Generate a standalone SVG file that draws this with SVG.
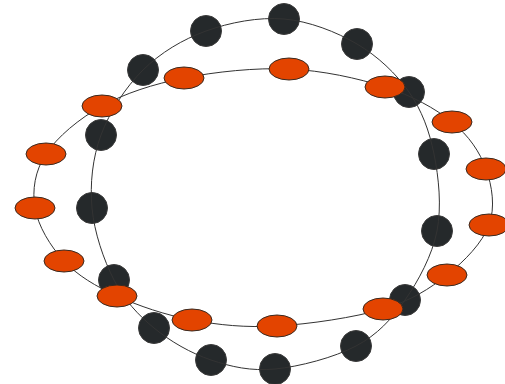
<svg xmlns="http://www.w3.org/2000/svg" width="505" height="384" viewBox="0 0 505 384">
<style>
.d{fill:#25292b;stroke:#3a3a3a;stroke-width:1}
.o{fill:#e34400;stroke:#3a2a20;stroke-width:1}
.e path{fill:none;stroke:#333;stroke-width:1}
</style>
<rect width="505" height="384" fill="#fff"/>
<g id="dark-nodes">
<circle id="d0" class="d" cx="284" cy="19" r="15.5"/>
<circle id="d1" class="d" cx="357" cy="44" r="15.5"/>
<circle id="d2" class="d" cx="409" cy="92" r="15.5"/>
<circle id="d3" class="d" cx="434" cy="154" r="15.5"/>
<circle id="d4" class="d" cx="437" cy="231" r="15.5"/>
<circle id="d5" class="d" cx="405" cy="300" r="15.5"/>
<circle id="d6" class="d" cx="356" cy="346" r="15.5"/>
<circle id="d7" class="d" cx="275" cy="369" r="15.5"/>
<circle id="d8" class="d" cx="211" cy="360" r="15.5"/>
<circle id="d9" class="d" cx="154" cy="328" r="15.5"/>
<circle id="d10" class="d" cx="114" cy="280" r="15.5"/>
<circle id="d11" class="d" cx="92" cy="208" r="15.5"/>
<circle id="d12" class="d" cx="101" cy="135" r="15.5"/>
<circle id="d13" class="d" cx="143" cy="70" r="15.5"/>
<circle id="d14" class="d" cx="206" cy="31" r="15.5"/>
</g>
<g id="connectors" class="e">
<path d="M284,19 C309.2,21.2 336.2,31.8 357,44"/>
<path d="M357,44 C377.8,56.2 396.2,73.7 409,92"/>
<path d="M409,92 C421.8,110.3 429.3,130.8 434,154"/>
<path d="M434,154 C438.7,177.2 441.8,206.7 437,231"/>
<path d="M437,231 C432.2,255.3 418.5,280.8 405,300"/>
<path d="M405,300 C391.5,319.2 377.7,334.5 356,346"/>
<path d="M356,346 C334.3,357.5 299.2,366.7 275,369"/>
<path d="M275,369 C250.8,371.3 231.2,366.8 211,360"/>
<path d="M211,360 C190.8,353.2 170.2,341.3 154,328"/>
<path d="M154,328 C137.8,314.7 124.3,300 114,280"/>
<path d="M114,280 C103.7,260 94.2,232.2 92,208"/>
<path d="M92,208 C89.8,183.8 92.5,158 101,135"/>
<path d="M101,135 C109.5,112 125.5,87.3 143,70"/>
<path d="M143,70 C160.5,52.7 182.5,39.5 206,31"/>
<path d="M206,31 C229.5,22.5 258.8,16.8 284,19"/>
<path d="M289,69 C322.5,70.5 357.8,78.2 385,87"/>
<path d="M385,87 C412.2,95.8 435.2,108.3 452,122"/>
<path d="M452,122 C468.8,135.7 479.8,151.8 486,169"/>
<path d="M486,169 C492.2,186.2 495.5,207.3 489,225"/>
<path d="M489,225 C482.5,242.7 464.7,261 447,275"/>
<path d="M447,275 C429.3,289 411.3,300.5 383,309"/>
<path d="M383,309 C354.7,317.5 308.8,324.2 277,326"/>
<path d="M277,326 C245.2,327.8 218.7,325 192,320"/>
<path d="M192,320 C165.3,315 138.3,305.8 117,296"/>
<path d="M117,296 C95.7,286.2 77.7,275.7 64,261"/>
<path d="M64,261 C50.3,246.3 38,225.8 35,208"/>
<path d="M35,208 C32,190.2 34.8,171 46,154"/>
<path d="M46,154 C57.2,137 79,118.7 102,106"/>
<path d="M102,106 C125,93.3 152.8,84.2 184,78"/>
<path d="M184,78 C215.2,71.8 255.5,67.5 289,69"/>
</g>
<g id="orange-nodes">
<ellipse id="o0" class="o" cx="289" cy="69" rx="20" ry="11"/>
<ellipse id="o1" class="o" cx="385" cy="87" rx="20" ry="11"/>
<ellipse id="o2" class="o" cx="452" cy="122" rx="20" ry="11"/>
<ellipse id="o3" class="o" cx="486" cy="169" rx="20" ry="11"/>
<ellipse id="o4" class="o" cx="489" cy="225" rx="20" ry="11"/>
<ellipse id="o5" class="o" cx="447" cy="275" rx="20" ry="11"/>
<ellipse id="o6" class="o" cx="383" cy="309" rx="20" ry="11"/>
<ellipse id="o7" class="o" cx="277" cy="326" rx="20" ry="11"/>
<ellipse id="o8" class="o" cx="192" cy="320" rx="20" ry="11"/>
<ellipse id="o9" class="o" cx="117" cy="296" rx="20" ry="11"/>
<ellipse id="o10" class="o" cx="64" cy="261" rx="20" ry="11"/>
<ellipse id="o11" class="o" cx="35" cy="208" rx="20" ry="11"/>
<ellipse id="o12" class="o" cx="46" cy="154" rx="20" ry="11"/>
<ellipse id="o13" class="o" cx="102" cy="106" rx="20" ry="11"/>
<ellipse id="o14" class="o" cx="184" cy="78" rx="20" ry="11"/>
</g>
</svg>
